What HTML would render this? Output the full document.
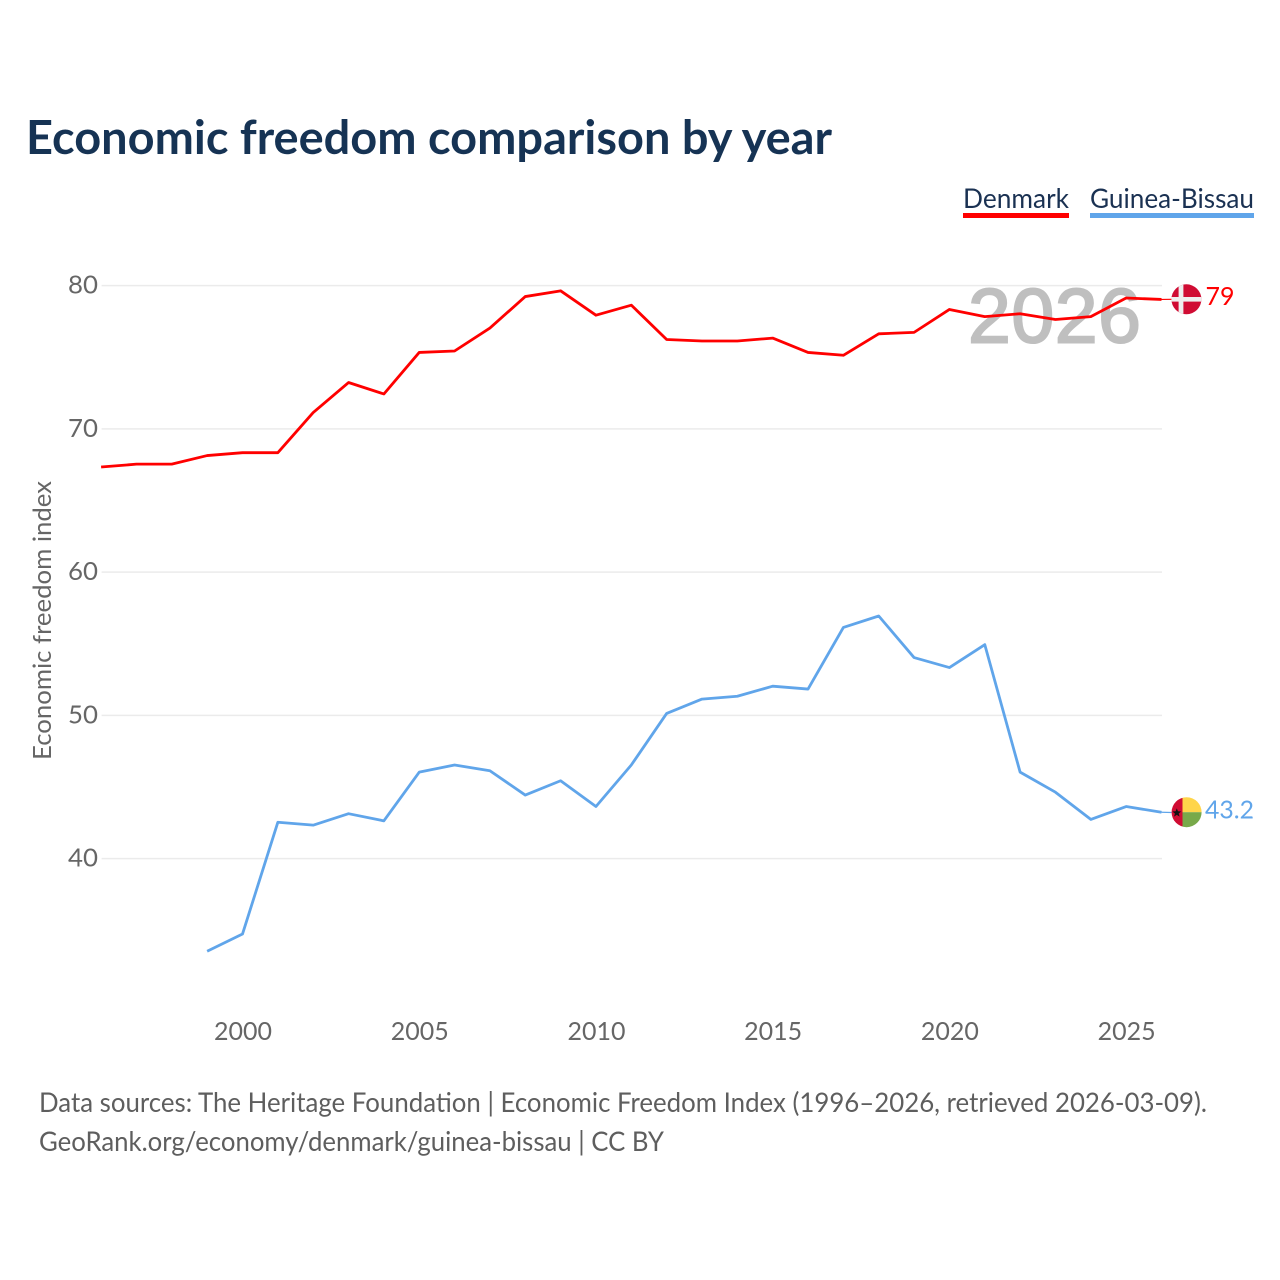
<!DOCTYPE html>
<html lang="en">
<head>
<meta charset="utf-8">
<title>Economic freedom comparison by year</title>
<style>
html,body{margin:0;padding:0;background:#fff;width:1280px;height:1280px;overflow:hidden}
svg{display:block}
text{font-family:"Lato","Carlito","Liberation Sans",sans-serif}
</style>
</head>
<body>
<svg id="chart" xmlns="http://www.w3.org/2000/svg" width="1280" height="1280" viewBox="0 0 1280 1280">
  <defs>
    <clipPath id="clip-dk"><circle cx="1186.4" cy="299.3" r="15"/></clipPath>
    <clipPath id="clip-gw"><circle cx="1186.6" cy="812.2" r="15"/></clipPath>
  </defs>
  <text x="26" y="154" font-size="47" font-weight="700" fill="#163354" textLength="806" lengthAdjust="spacingAndGlyphs">Economic freedom comparison by year</text>

  <g>
    <text x="963" y="208" font-size="27" fill="#1a3152" textLength="106" lengthAdjust="spacingAndGlyphs">Denmark</text>
    <rect x="963" y="213" width="106" height="5" fill="#ff0000"/>
  </g>
  <g>
    <text x="1090" y="208" font-size="27" fill="#1a3152" textLength="164" lengthAdjust="spacingAndGlyphs">Guinea-Bissau</text>
    <rect x="1090" y="213" width="164" height="5" fill="#60a5ea"/>
  </g>

  <g id="grid"></g>
  <g id="y-ticks"></g>
  <g id="x-ticks"></g>

  <text transform="translate(51 620.5) rotate(-90)" text-anchor="middle" font-size="25" fill="#666666" textLength="279" lengthAdjust="spacingAndGlyphs">Economic freedom index</text>

  <text x="968" y="342.5" font-size="77" fill="#bfbfbf" stroke="#bfbfbf" stroke-width="2" textLength="173" lengthAdjust="spacing" style="font-family:'Liberation Sans',sans-serif">2026</text>

  <g id="series" transform="translate(-0.5 -0.5)"></g>

  <g clip-path="url(#clip-dk)">
    <rect x="1171" y="284" width="31" height="31" fill="#d00c33"/>
    <rect x="1171" y="297" width="31" height="4.6" fill="#eeeeee"/>
    <rect x="1178.6" y="284" width="4.8" height="31" fill="#eeeeee"/>
  </g>
  <g clip-path="url(#clip-gw)">
    <rect x="1171" y="797" width="11.5" height="31" fill="#d00c33"/>
    <rect x="1182.5" y="797" width="20" height="15.2" fill="#ffd54a"/>
    <rect x="1182.5" y="812.2" width="20" height="16" fill="#78a94a"/>
    <polygon points="1176.8,808.4 1178,811.3 1181.2,811.5 1178.7,813.5 1179.6,816.6 1176.8,814.9 1174,816.6 1174.9,813.5 1172.4,811.5 1175.6,811.3" fill="#111111"/>
  </g>
  <text id="label-dk" x="1205.5" y="305" font-size="25" fill="#ff0000" textLength="29" lengthAdjust="spacingAndGlyphs"></text>
  <text id="label-gw" x="1205" y="818.5" font-size="25" fill="#60a5ea" textLength="49" lengthAdjust="spacingAndGlyphs"></text>

  <text x="39" y="1112" font-size="27" fill="#5e5e5e" textLength="1168" lengthAdjust="spacingAndGlyphs">Data sources: The Heritage Foundation | Economic Freedom Index (1996–2026, retrieved 2026-03-09).</text>
  <text x="39" y="1151" font-size="27" fill="#5e5e5e" textLength="625" lengthAdjust="spacingAndGlyphs">GeoRank.org/economy/denmark/guinea-bissau | CC BY</text>
</svg>
<script>
const years = [1996,1997,1998,1999,2000,2001,2002,2003,2004,2005,2006,2007,2008,2009,2010,2011,2012,2013,2014,2015,2016,2017,2018,2019,2020,2021,2022,2023,2024,2025,2026];
const denmarkValues = [67.3,67.5,67.5,68.1,68.3,68.3,71.1,73.2,72.4,75.3,75.4,77.0,79.2,79.6,77.9,78.6,76.2,76.1,76.1,76.3,75.3,75.1,76.6,76.7,78.3,77.8,78.0,77.6,77.8,79.1,79.0];
const guineaBissauValues = [null,null,null,33.5,34.7,42.5,42.3,43.1,42.6,46.0,46.5,46.1,44.4,45.4,43.6,46.5,50.1,51.1,51.3,52.0,51.8,56.1,56.9,54.0,53.3,54.9,46.0,44.6,42.7,43.6,43.2];
const yTicks = [40,50,60,70,80];
const xTicks = [2000,2005,2010,2015,2020,2025];
const denmarkEndLabel = '79';
const guineaBissauEndLabel = '43.2';

const NS = 'http://www.w3.org/2000/svg';
function xScale(year) { return 101.6 + (year - 1996) * (1162 - 101.6) / 30; }
function yScale(value) { return 858.6 - (value - 40) * (858.6 - 285.6) / 40; }

function make(tag, attrs, parent) {
  const el = document.createElementNS(NS, tag);
  for (const k in attrs) el.setAttribute(k, attrs[k]);
  parent.appendChild(el);
  return el;
}

const gridGroup = document.getElementById('grid');
const yTickGroup = document.getElementById('y-ticks');
const xTickGroup = document.getElementById('x-ticks');
const seriesGroup = document.getElementById('series');

yTicks.forEach(function (t) {
  const line = make('line', {x1: 101.6, x2: 1162, y1: yScale(t), y2: yScale(t), stroke: '#ebebeb', 'stroke-width': 1.5}, gridGroup);
  
  
  const label = make('text', {x: 98, y: yScale(t) + 8, 'text-anchor': 'end', 'font-size': 25, fill: '#666666', textLength: 30, lengthAdjust: 'spacingAndGlyphs'}, yTickGroup);
  label.textContent = String(t);
  
  
});

xTicks.forEach(function (t) {
  const label = make('text', {x: xScale(t), y: 1040, 'text-anchor': 'middle', 'font-size': 25, fill: '#666666', textLength: 58, lengthAdjust: 'spacingAndGlyphs'}, xTickGroup);
  label.textContent = String(t);
  
  
});

function linePoints(values) {
  const pts = [];
  values.forEach(function (v, i) {
    if (v !== null) pts.push(xScale(years[i]).toFixed(2) + ',' + yScale(v).toFixed(2));
  });
  return pts.join(' ');
}

function lastValue(values) {
  return values[values.length - 1];
}

const denmarkLine = make('polyline', {points: linePoints(denmarkValues), fill: 'none', stroke: '#ff0000', 'stroke-width': 2.8, 'stroke-linejoin': 'round'}, seriesGroup);



const guineaLine = make('polyline', {points: linePoints(guineaBissauValues), fill: 'none', stroke: '#60a5ea', 'stroke-width': 2.8, 'stroke-linejoin': 'round'}, seriesGroup);



const denmarkConnector = make('line', {x1: 1162, x2: 1172, y1: yScale(lastValue(denmarkValues)), y2: 299.8, stroke: '#ff0000', 'stroke-width': 1.2}, seriesGroup);



const guineaConnector = make('line', {x1: 1162, x2: 1172, y1: yScale(lastValue(guineaBissauValues)), y2: 813, stroke: '#60a5ea', 'stroke-width': 1.2}, seriesGroup);



document.getElementById('label-dk').textContent = denmarkEndLabel;
document.getElementById('label-gw').textContent = guineaBissauEndLabel;
</script>
</body>
</html>
